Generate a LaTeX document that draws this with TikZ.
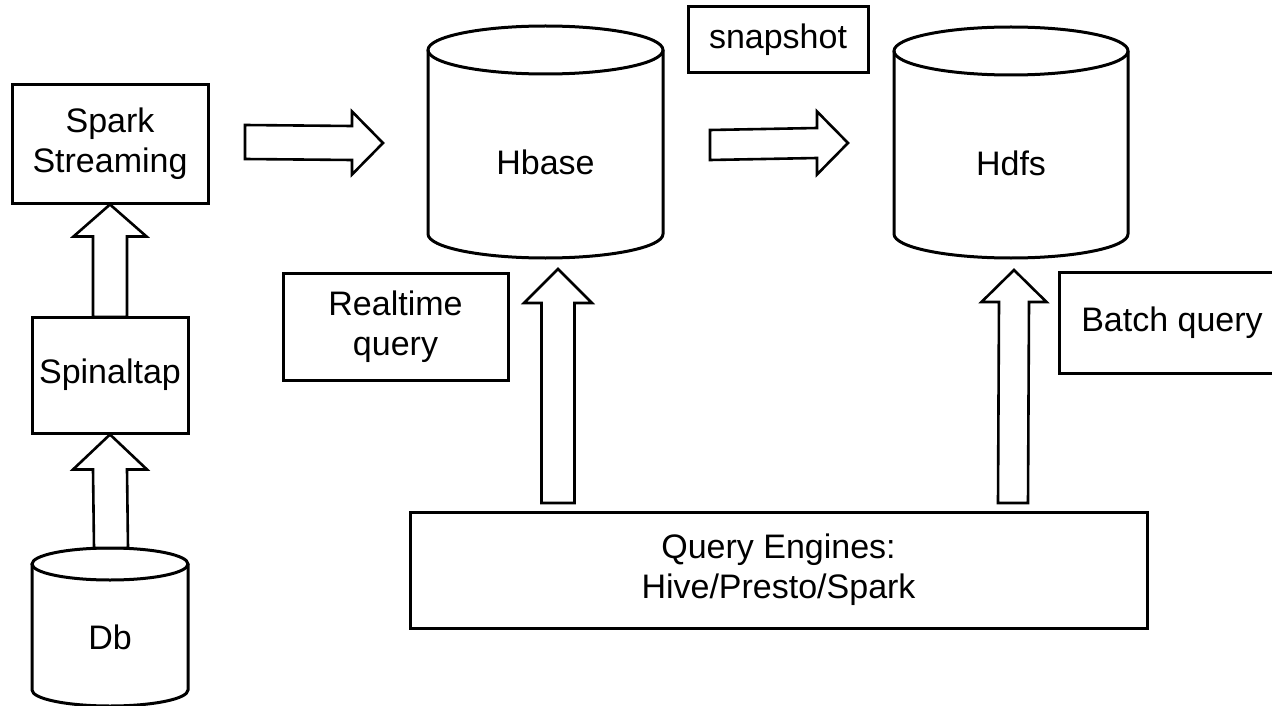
\documentclass[tikz,border=0pt]{standalone}
\usepackage{fontspec}
\setmainfont{Liberation Sans}
\usetikzlibrary{calc}
% vertical block arrow: from #1 (tail) to #2 (tip), shaft half width #3, head half width #4, head length #5
\newcommand{\vblock}[5]{%
  \draw[blockarrow] ($(#1)+(-#3,0)$) -- ($(#2)+(-#3,#5)$) -- ($(#2)+(-#4,#5)$) -- (#2)
    -- ($(#2)+(#4,#5)$) -- ($(#2)+(#3,#5)$) -- ($(#1)+(#3,0)$) -- cycle;}
% horizontal block arrow
\newcommand{\hblock}[5]{%
  \draw[blockarrow] ($(#1)+(0,-#3)$) -- ($(#2)+(-#5,-#3)$) -- ($(#2)+(-#5,-#4)$) -- (#2)
    -- ($(#2)+(-#5,#4)$) -- ($(#2)+(-#5,#3)$) -- ($(#1)+(0,#3)$) -- cycle;}
% cylinder: centre x #1, top ellipse y #2, bottom ellipse y #3, rx #4, ry #5
\newcommand{\dbcyl}[5]{%
  \draw[cylline] ({#1-#4},#2) -- ({#1-#4},#3)
    arc[start angle=180,end angle=360,x radius=#4pt,y radius=#5pt] -- ({#1+#4},#2);
  \draw[cylline] (#1,#2) ellipse [x radius=#4pt, y radius=#5pt];}
\begin{document}
\begin{tikzpicture}[x=1pt,y=-1pt,
  box/.style={draw, line width=3pt, inner sep=0pt, align=center,
              font=\fontsize{34}{40}\selectfont},
  lbl/.style={inner sep=0pt, align=center, font=\fontsize{34}{40}\selectfont},
  cylline/.style={line width=3pt},
  blockarrow/.style={draw, fill=white, line width=2.6pt, line join=miter}]
\useasboundingbox (0,0) rectangle (1272,706);
\clip (0,0) rectangle (1272,706);
\fill[white] (0,0) rectangle (1272,706);

% boxes
\node[box, minimum width=196pt, minimum height=118pt] (spark) at (110,144) {Spark\\Streaming};
\node[box, minimum width=156pt, minimum height=116pt] (spinal) at (110,375) {Spinaltap};
\node[box, minimum width=180pt, minimum height=66pt] (snap) at (778,40) {snapshot};
\node[box, minimum width=225pt, minimum height=107pt] (rtq) at (395.5,326.5) {Realtime\\query};
\node[box, minimum width=226pt, minimum height=101pt] (bq) at (1172,322.5) {Batch query};
\node[box, minimum width=737pt, minimum height=116pt] (qe) at (778.5,570) {Query Engines:\\Hive/Presto/Spark};

% cylinders
\dbcyl{545.5}{50}{234}{117.5}{24}
\node[lbl] (hbase) at (545.5,162) {Hbase};
\dbcyl{1011}{51}{234}{117}{24}
\node[lbl] (hdfs) at (1011,163) {Hdfs};
\dbcyl{110}{564}{690}{78}{16}
\node[lbl] (db) at (110,637) {Db};

% arrow end points
\coordinate (dbtop) at (111,548);
\coordinate (spinaltop) at (110,317);
\coordinate (s2hA) at (245,142);
\coordinate (s2hB) at (383,143);
\coordinate (h2dA) at (710,145);
\coordinate (h2dB) at (848,143);
\coordinate (qeL) at (558,503);
\coordinate (hbaseBot) at (558,269);
\coordinate (qeR) at (1013,503);
\coordinate (hdfsBot) at (1014,270);

\vblock{dbtop}{spinal.south}{17}{37}{35}
\vblock{spinaltop}{spark.south}{17}{36.5}{32}
\hblock{s2hA}{s2hB}{17}{31.5}{31}
\hblock{h2dA}{h2dB}{15}{31.5}{31}
\vblock{qeL}{hbaseBot}{16.5}{34}{34}
\vblock{qeR}{hdfsBot}{15}{32.5}{32}
\end{tikzpicture}
\end{document}
